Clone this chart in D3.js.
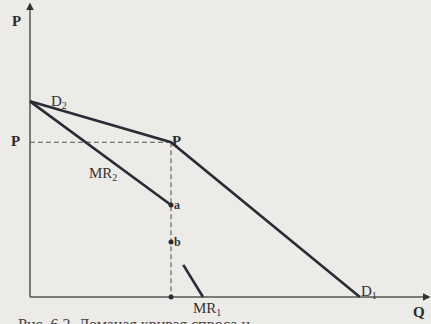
<!DOCTYPE html>
<html>
<head>
<meta charset="utf-8">
<script src="https://cdn.jsdelivr.net/npm/d3@7"></script>
<style>
  body { margin: 0; background: #ecebe7; }
  svg { display: block; }
</style>
</head>
<body>
<div id="chart"></div>
<script>
// kinked demand curve (values in chart units, Q 0..100, P 0..100)
const demandQ = [0, 35.7, 83.5];
const demandP = [67, 53, 0];
const mr2Q = [0, 35.7];
const mr2P = [67, 31.5];
const mr1Q = [38.8, 43.8];
const mr1P = [11, 0];
const kinkQ = 35.7, kinkP = 53;
const pointNames = ["a", "b"];
const pointP = [31.5, 18.8];

const width = 431, height = 324;
const svg = d3.select("#chart").append("svg")
    .attr("width", width).attr("height", height)
    .style("background", "#ecebe7");

const x = d3.scaleLinear().domain([0, 100]).range([30, 425]);
const y = d3.scaleLinear().domain([0, 100]).range([297, 5]);

const ink = "#2b2b36";
const font = "'Liberation Serif', 'Times New Roman', serif";

// axes with arrows
svg.append("defs").append("marker")
    .attr("id", "arrow")
    .attr("viewBox", "0 -5 10 10")
    .attr("refX", 8).attr("refY", 0)
    .attr("markerWidth", 5).attr("markerHeight", 5)
    .attr("orient", "auto")
    .append("path").attr("d", "M0,-5L10,0L0,5").attr("fill", "#333");

svg.append("line")
    .attr("x1", x(0)).attr("y1", y(0)).attr("x2", x(0)).attr("y2", 4)
    .attr("stroke", "#555").attr("stroke-width", 1.5)
    .attr("marker-end", "url(#arrow)");
svg.append("line")
    .attr("x1", x(0)).attr("y1", y(0)).attr("x2", 429).attr("y2", y(0))
    .attr("stroke", "#555").attr("stroke-width", 1.5)
    .attr("marker-end", "url(#arrow)");

// dashed guides
svg.append("line")
    .attr("x1", x(0)).attr("y1", y(kinkP)).attr("x2", x(kinkQ)).attr("y2", y(kinkP))
    .attr("stroke", "#555").attr("stroke-width", 1.2).attr("stroke-dasharray", "5,3");
svg.append("line")
    .attr("x1", x(kinkQ)).attr("y1", y(kinkP)).attr("x2", x(kinkQ)).attr("y2", y(0))
    .attr("stroke", "#666").attr("stroke-width", 1.2).attr("stroke-dasharray", "5,3");

const line = d3.line().x(d => x(d[0])).y(d => y(d[1]));
const curves = [
    d3.zip(demandQ, demandP),
    d3.zip(mr2Q, mr2P),
    d3.zip(mr1Q, mr1P)
];
svg.append("g").selectAll("path").data(curves).enter().append("path")
    .attr("d", line)
    .attr("fill", "none")
    .attr("stroke", ink)
    .attr("stroke-width", 2.6);

// points a, b and foot of the dashed line
svg.append("g").selectAll("circle").data(pointP.concat([0])).enter().append("circle")
    .attr("cx", x(kinkQ)).attr("cy", d => y(d)).attr("r", 2.5).attr("fill", ink);

svg.append("g").selectAll("text").data(pointNames).enter().append("text")
    .attr("x", x(kinkQ) + 3).attr("y", (d, i) => y(pointP[i]) + 4)
    .attr("font-family", font).attr("font-weight", "bold").attr("font-size", 12)
    .attr("fill", "#333").text(d => d);

// labels
const labels = [
    { t: "P", x: 12, y: 26, b: true },
    { t: "P", x: 11, y: 146, b: true },
    { t: "P", x: x(kinkQ) + 1, y: 146, b: true },
    { t: "Q", x: 413, y: 317, b: true }
];
svg.append("g").selectAll("text").data(labels).enter().append("text")
    .attr("x", d => d.x).attr("y", d => d.y)
    .attr("font-family", font).attr("font-weight", "bold").attr("font-size", 15)
    .attr("fill", "#2a2a2a").text(d => d.t);

function subLabel(main, sub, lx, ly) {
    const t = svg.append("text").attr("x", lx).attr("y", ly)
        .attr("font-family", font).attr("font-size", 15).attr("fill", "#333");
    t.append("tspan").text(main);
    t.append("tspan").attr("font-size", 10).attr("dy", 3).text(sub);
}
subLabel("D", "2", 51, 106);
subLabel("MR", "2", 89, 178);
subLabel("D", "1", 361, 296);
subLabel("MR", "1", 193, 313);

// caption (cut off at bottom in the scan)
svg.append("text")
    .attr("x", 18).attr("y", 330)
    .attr("font-family", font).attr("font-size", 16).attr("fill", "#444")
    .text("Рис. 6.2. Ломаная кривая спроса и ...");
</script>
</body>
</html>
